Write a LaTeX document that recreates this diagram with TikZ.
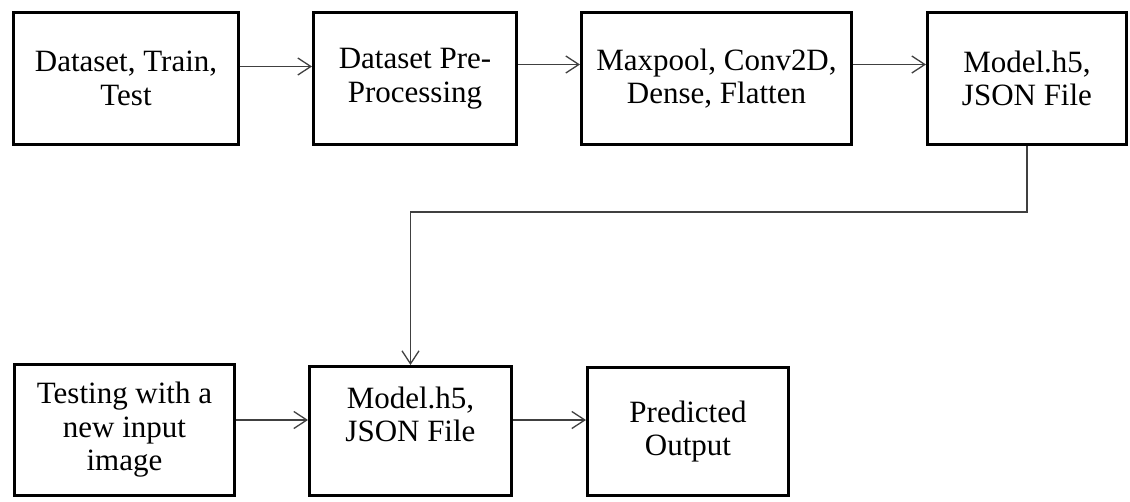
\documentclass[tikz,border=0pt]{standalone}
\usepackage{fontspec}
\setmainfont{Liberation Serif}
\usetikzlibrary{arrows.meta}
\definecolor{arrgray}{HTML}{404040}
\begin{document}
\begin{tikzpicture}[x=1pt,y=1pt,
  box/.style={draw=black, line width=3.3pt, rectangle, align=center,
    font=\fontsize{31}{33.5}\selectfont, inner sep=0pt},
  arr/.style={draw=arrgray, line width=1.3pt,
    -{Straight Barb[length=13pt,width=17pt,line width=1.3pt]}}]
\useasboundingbox (0,0) rectangle (1130,-501);
\node[box, minimum width=224.7pt, minimum height=131.7pt] (b1) at (126,-78.5) {Dataset, Train,\\Test};
\node[box, minimum width=202.7pt, minimum height=131.7pt] (b2) at (415,-78.5) {Dataset Pre-\\Processing};
\node[box, minimum width=269.7pt, minimum height=131.7pt] (b3) at (716.5,-78.5) {Maxpool, Conv2D,\\Dense, Flatten};
\node[box, minimum width=198.7pt, minimum height=131.7pt] (b4) at (1027,-78.5) {Model.h5,\\JSON File};
\node[box, minimum width=219.7pt, minimum height=130.7pt] (b5) at (124.5,-430) {Testing with a\\new input\\image};
\node[box, minimum width=201.7pt, minimum height=128.7pt] (b6) at (410.5,-431) {Model.h5,\\JSON File\\\mbox{}};
\node[box, minimum width=200.7pt, minimum height=127.7pt] (b7) at (688,-431.5) {Predicted\\Output};
\draw[arr] ([yshift=12pt]b1.east) -- ([yshift=12pt]b1.east -| b2.west);
\draw[arr] ([yshift=14pt]b2.east) -- ([yshift=14pt]b2.east -| b3.west);
\draw[arr] ([yshift=14pt]b3.east) -- ([yshift=14pt]b3.east -| b4.west);
\draw[arr] (b4.south) -- ++(0,-66) -| (b6.north);
\draw[arr] ([yshift=10pt]b5.east) -- ([yshift=10pt]b5.east -| b6.west);
\draw[arr] ([yshift=11pt]b6.east) -- ([yshift=11pt]b6.east -| b7.west);
\end{tikzpicture}
\end{document}
